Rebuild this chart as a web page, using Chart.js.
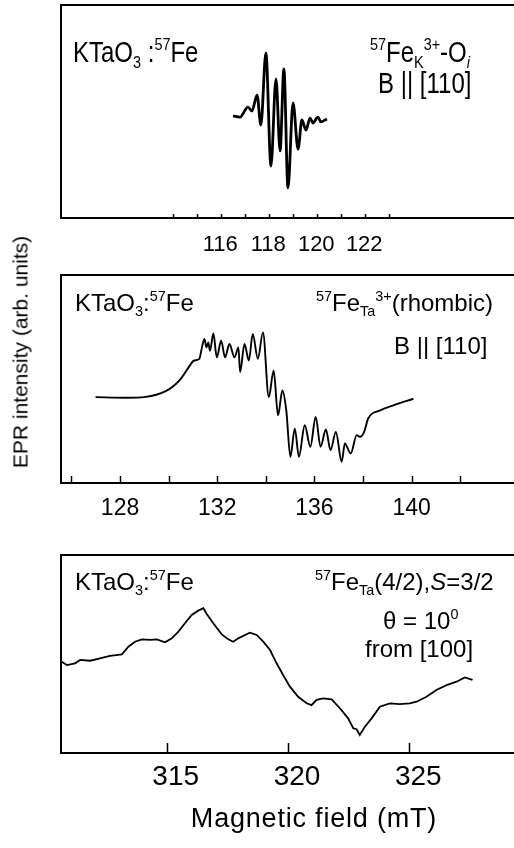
<!DOCTYPE html>
<html><head><meta charset="utf-8">
<script src="https://cdn.jsdelivr.net/npm/chart.js@4.4.0/dist/chart.umd.min.js"></script>
<style>
html,body{margin:0;padding:0;background:#fff;}
body{width:514px;height:848px;position:relative;overflow:hidden;font-family:"Liberation Sans",Arial,sans-serif;color:#000;}
.pw{position:absolute;left:0;width:514px;}
.t{position:absolute;white-space:nowrap;font-size:24px;line-height:24px;}
.s1{transform:scaleY(1.2);transform-origin:0 0;}
.sp{font-size:0.6em;position:relative;top:-0.7em;}
.sb{font-size:0.6em;position:relative;top:0.35em;}
.ytitle{position:absolute;left:20px;top:352px;font-size:21px;line-height:21px;white-space:nowrap;transform:translate(-50%,-50%) rotate(-90deg);}
.xtitle{position:absolute;left:314px;top:805px;font-size:27px;line-height:27px;letter-spacing:0.8px;white-space:nowrap;transform:translateX(-50%);}
</style></head><body>
<div class="pw" style="top:0;height:270px"><canvas id="c1"></canvas></div>
<div class="pw" style="top:265px;height:270px"><canvas id="c2"></canvas></div>
<div class="pw" style="top:545px;height:303px"><canvas id="c3"></canvas></div>

<div class="t s1" style="left:73px;top:38px">KTaO<span class="sb">3</span> :<span class="sp">57</span>Fe</div>
<div class="t s1" style="left:370px;top:38px"><span class="sp">57</span>Fe<span class="sb">K</span><span class="sp">3+</span>-O<span class="sb"><i>i</i></span></div>
<div class="t s1" style="left:378px;top:69px">B || [110]</div>

<div class="t" style="left:75px;top:291px">KTaO<span class="sb">3</span>:<span class="sp">57</span>Fe</div>
<div class="t" style="left:316px;top:291px"><span class="sp">57</span>Fe<span class="sb">Ta</span><span class="sp">3+</span>(rhombic)</div>
<div class="t" style="left:394px;top:334px">B || [110]</div>

<div class="t" style="left:75px;top:570px">KTaO<span class="sb">3</span>:<span class="sp">57</span>Fe</div>
<div class="t" style="left:315px;top:570px"><span class="sp">57</span>Fe<span class="sb">Ta</span>(4/2),<i>S</i>=3/2</div>
<div class="t" style="left:383px;top:609px">θ = 10<span class="sp">0</span></div>
<div class="t" style="left:365px;top:637px">from [100]</div>

<div class="ytitle">EPR intensity (arb. units)</div>
<div class="xtitle">Magnetic field (mT)</div>

<script>
// Panel 1: 57Fe_K3+-O_i, B || [110]
const field1 = [116.49,116.78,117.11,117.28,117.49,117.65,117.86,118.07,118.28,118.45,118.61,118.78,118.99,119.20,119.36,119.53,119.70,119.82,120.03,120.15,120.40];
const intensity1 = [47.9,47.4,52.1,50.2,57.7,43.7,77.5,24.4,65.3,31.5,70.0,14.1,54.0,32.4,46.0,41.3,46.9,44.6,47.4,45.1,46.5];
const tickMarks1 = [114,115,116,117,118,119,120,121,122,123];
const tickLabels1 = [116,118,120,122];

// Panel 2: 57Fe_Ta3+ (rhombic), B || [110]
const field2 = [126.99,128.23,129.88,130.50,130.92,131.05,131.26,131.37,131.47,131.56,131.63,131.70,131.84,131.98,132.16,132.32,132.50,132.71,132.87,132.94,133.12,133.30,133.46,133.67,133.88,134.12,134.32,134.50,134.68,134.84,135.01,135.19,135.36,135.60,135.83,136.05,136.25,136.47,136.66,136.88,137.12,137.25,137.49,137.74,137.87,138.04,138.21,138.70,139.25,140.07];
const intensity2 = [41.3,41.0,44.2,50.1,57.3,58.9,59.7,65.2,69.2,65.2,67.6,63.6,71.9,60.4,68.4,60.4,66.8,60.4,65.2,53.3,66.8,58.9,71.6,59.7,72.4,41.3,54.1,32.5,44.5,34.9,12.6,26.2,12.6,27.8,17.4,31.7,17.4,25.7,15.8,24.5,10.2,19.0,14.2,23.0,22.2,24.5,31.0,34.9,37.3,40.5];
const tickMarks2 = [126,128,130,132,134,136,138,140,142];
const tickLabels2 = [128,132,136,140];

// Panel 3: 57Fe_Ta(4/2), S=3/2, theta = 10 deg from [100]
const field3 = [310.67,310.88,311.22,311.43,311.84,312.25,312.66,313.15,313.42,313.69,313.97,314.31,314.59,314.93,315.21,315.48,315.75,316.03,316.30,316.51,316.65,316.92,317.27,317.54,317.74,317.95,318.23,318.43,318.71,318.98,319.26,319.53,319.80,320.08,320.42,320.77,320.97,321.18,321.45,321.80,322.14,322.48,322.69,322.83,322.96,323.17,323.45,323.79,324.20,324.61,325.02,325.30,325.71,326.12,326.54,326.95,327.29,327.61];
const intensity3 = [46.1,44.4,45.3,47.0,46.6,47.8,49.0,49.8,53.7,56.2,57.4,57.1,57.4,55.9,57.9,61.3,65.5,69.7,71.9,73.1,70.2,65.5,59.9,57.4,56.2,57.9,59.6,60.8,59.6,56.2,52.0,45.3,39.4,33.5,28.4,25.1,24.2,26.8,27.6,27.1,22.6,17.5,12.5,12.0,9.1,13.3,17.5,23.4,25.1,24.7,25.1,25.9,28.4,31.8,34.3,36.0,38.2,36.9];
const tickMarks3 = [315,320,325];
const tickLabels3 = [315,320,325];

const FONT = '"Liberation Sans", Arial, sans-serif';

const framePlugin = {
  id: 'frame',
  afterDraw(chart, args, o) {
    const {ctx, chartArea: a, scales: {x}} = chart;
    ctx.save();
    ctx.strokeStyle = '#000';
    ctx.lineWidth = 2;
    ctx.beginPath();
    ctx.moveTo(a.right + 2, a.top);
    ctx.lineTo(a.left, a.top);
    ctx.lineTo(a.left, a.bottom);
    ctx.lineTo(a.right + 2, a.bottom);
    ctx.stroke();
    ctx.lineWidth = 1.5;
    ctx.beginPath();
    x.ticks.forEach(t => {
      const px = Math.round(x.getPixelForValue(t.value)) + 0.5;
      ctx.moveTo(px, a.bottom);
      ctx.lineTo(px, a.bottom - o.len);
    });
    ctx.stroke();
    ctx.restore();
  }
};

function makePanel(id, xs, ys, marks, labels, cfg) {
  const pts = xs.map((v, i) => ({x: v, y: ys[i]}));
  return new Chart(document.getElementById(id), {
    type: 'line',
    data: {datasets: [{
      data: pts, borderColor: '#000', borderWidth: cfg.lw, pointRadius: 0,
      fill: false, tension: cfg.tension, cubicInterpolationMode: cfg.cim
    }]},
    options: {
      responsive: true, maintainAspectRatio: false, animation: false, events: [],
      layout: {padding: {left: 61, right: 0, top: cfg.top, bottom: 0}},
      plugins: {legend: {display: false}, tooltip: {enabled: false}, frame: {len: cfg.tickLen}},
      scales: {
        x: {
          type: 'linear', min: cfg.min, max: cfg.max,
          afterFit: s => { s.height = cfg.axisH; },
          afterBuildTicks: s => { s.ticks = marks.map(v => ({value: v})); },
          grid: {display: false, drawTicks: false},
          border: {display: false},
          ticks: {
            autoSkip: false, maxRotation: 0, minRotation: 0,
            padding: cfg.pad, labelOffset: cfg.lo, color: '#000',
            font: {family: FONT, size: cfg.fs},
            callback: v => labels.includes(v) ? String(v) : ''
          }
        },
        y: {display: false, min: 0, max: 100}
      }
    },
    plugins: [framePlugin]
  });
}

makePanel('c1', field1, intensity1, tickMarks1, tickLabels1,
  {lw: 2.8, tension: 0.4, cim: 'monotone', top: 5, min: 109.32, max: 128.2, axisH: 52, pad: 13.8, lo: -1, fs: 22, tickLen: 4});
makePanel('c2', field2, intensity2, tickMarks2, tickLabels2,
  {lw: 1.9, tension: 0.4, cim: 'monotone', top: 10, min: 125.57, max: 144.21, axisH: 52, pad: 12.2, lo: 0, fs: 23, tickLen: 7});
makePanel('c3', field3, intensity3, tickMarks3, tickLabels3,
  {lw: 1.8, tension: 0, cim: 'default', top: 10, min: 310.64, max: 329.32, axisH: 95, pad: 7.7, lo: 9, fs: 28, tickLen: 10});
</script>
</body></html>
